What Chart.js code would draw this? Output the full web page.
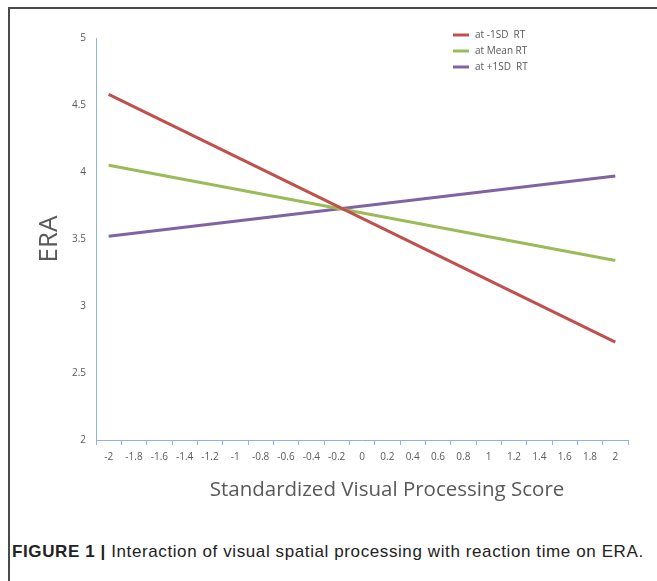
<!DOCTYPE html>
<html>
<head>
<meta charset="utf-8">
<script src="https://cdn.jsdelivr.net/npm/chart.js@4"></script>
<style>
  html, body { margin: 0; padding: 0; background: #fff; }
  body { width: 657px; height: 581px; position: relative; overflow: hidden; }
  #frame { position: absolute; left: 8px; top: 7px; right: -4px; bottom: -4px; border-top: 2px solid #4a4a4a; border-left: 2px solid #4a4a4a; }
  #wrap { position: absolute; left: 0; top: 0; width: 657px; height: 510px; }
  #caption { position: absolute; left: 12px; top: 542px; font-family: "Liberation Sans", Arial, sans-serif; font-size: 17px; letter-spacing: 0.6px; color: #222; white-space: nowrap; }
  #caption b { font-weight: bold; }
</style>
</head>
<body>
<div id="frame"></div>
<div id="wrap"><canvas id="chart"></canvas></div>
<div id="caption"><b>FIGURE 1 |</b> Interaction of visual spatial processing with reaction time on ERA.</div>
<script>
const scores = ['-2', '-1.8', '-1.6', '-1.4', '-1.2', '-1', '-0.8', '-0.6', '-0.4', '-0.2', '0',
  '0.2', '0.4', '0.6', '0.8', '1', '1.2', '1.4', '1.6', '1.8', '2'];
const seriesNames = ['at -1SD  RT', 'at Mean RT', 'at +1SD  RT'];
const seriesColors = ['#c0504d', '#9bbb59', '#8064a2'];
// simple slopes: only the two end values are read, the line joins them
const lowRT = [4.58, null, null, null, null, null, null, null, null, null, null, null, null, null, null, null, null, null, null, null, 2.73];
const meanRT = [4.05, null, null, null, null, null, null, null, null, null, null, null, null, null, null, null, null, null, null, null, 3.34];
const highRT = [3.52, null, null, null, null, null, null, null, null, null, null, null, null, null, null, null, null, null, null, null, 3.97];
const yTicks = [2, 2.5, 3, 3.5, 4, 4.5, 5];
const xTitle = 'Standardized Visual Processing Score';

const axisBlue = '#8db3e2';
const textGray = '#595959';
const font = '"Open Sans", "Liberation Sans", sans-serif';

// legend and x title drawn by hand (Excel puts the title off-centre)
const extras = {
  id: 'extras',
  afterDraw(chart) {
    const ctx = chart.ctx;
    ctx.save();
    ctx.font = '10px ' + font;
    ctx.textBaseline = 'middle';
    chart.data.datasets.forEach((ds, i) => {
      const y = 35 + i * 16;
      ctx.strokeStyle = ds.borderColor;
      ctx.lineWidth = 3;
      ctx.beginPath();
      ctx.moveTo(453, y);
      ctx.lineTo(469, y);
      ctx.stroke();
      ctx.fillStyle = textGray;
      ctx.fillText(ds.label, 475, y);
    });
    ctx.font = '20.5px ' + font;
    ctx.textAlign = 'center';
    ctx.fillText(xTitle, 387, 490);
    ctx.restore();
  }
};

new Chart(document.getElementById('chart'), {
  type: 'line',
  data: {
    labels: scores,
    datasets: [lowRT, meanRT, highRT].map((d, i) => ({
      label: seriesNames[i],
      data: d,
      borderColor: seriesColors[i],
      backgroundColor: seriesColors[i],
      borderWidth: 3,
      pointRadius: 0,
      spanGaps: true,
      tension: 0
    }))
  },
  options: {
    responsive: true,
    maintainAspectRatio: false,
    animation: false,
    layout: { padding: { top: 38, right: 29, left: 30, bottom: 0 } },
    plugins: { legend: { display: false }, tooltip: { enabled: false } },
    scales: {
      x: {
        offset: true,
        afterFit: s => { s.height = 70; },
        grid: { display: true, offset: true, drawOnChartArea: false, drawTicks: true, tickLength: 5, color: axisBlue },
        border: { display: true, color: axisBlue, width: 1 },
        ticks: { color: textGray, font: { size: 10, family: font }, padding: 6, maxRotation: 0, autoSkip: false }
      },
      y: {
        min: 2,
        max: 5,
        afterFit: s => { s.width = 66; },
        afterBuildTicks: s => { s.ticks = yTicks.map(v => ({ value: v })); },
        grid: { display: false },
        border: { display: true, color: axisBlue, width: 1 },
        ticks: { color: textGray, font: { size: 10, family: font }, padding: 2, callback: v => String(v) },
        title: { display: true, text: 'ERA', color: textGray, font: { size: 26, family: font }, padding: 4 }
      }
    }
  },
  plugins: [extras]
});
</script>
</body>
</html>
